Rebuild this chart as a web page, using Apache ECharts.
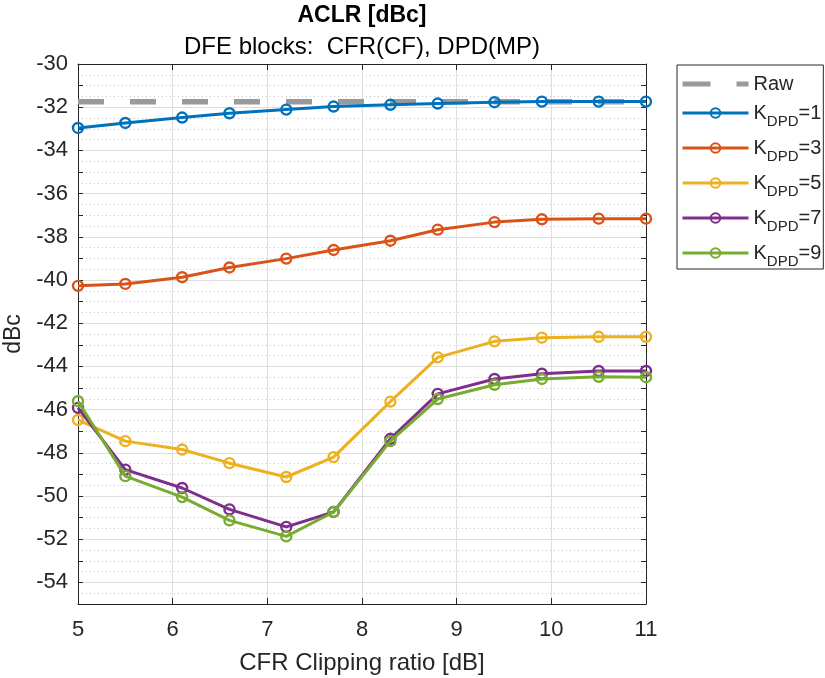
<!DOCTYPE html>
<html>
<head>
<meta charset="utf-8">
<script src="https://cdn.jsdelivr.net/npm/echarts@6.0.0/dist/echarts.min.js"></script>
<style>
html,body{margin:0;padding:0;background:#fff;}
#chart{width:825px;height:678px;}
</style>
</head>
<body>
<div id="chart"></div>
<script>
// ---- data ----
const xValues = [5, 5.5, 6.1, 6.6, 7.2, 7.7, 8.3, 8.8, 9.4, 9.9, 10.5, 11];
const rawValues = [-31.75, -31.75, -31.75, -31.75, -31.75, -31.75, -31.75, -31.75, -31.75, -31.75, -31.75, -31.75];
const k1Values = [-32.96, -32.73, -32.48, -32.28, -32.11, -31.97, -31.89, -31.83, -31.77, -31.74, -31.74, -31.74];
const k3Values = [-40.27, -40.18, -39.87, -39.42, -39.01, -38.61, -38.18, -37.67, -37.32, -37.19, -37.16, -37.16];
const k5Values = [-46.48, -47.46, -47.85, -48.48, -49.12, -48.20, -45.63, -43.58, -42.84, -42.67, -42.63, -42.63];
const k7Values = [-45.92, -48.78, -49.63, -50.62, -51.43, -50.74, -47.35, -45.27, -44.58, -44.34, -44.21, -44.21];
const k9Values = [-45.61, -49.08, -50.05, -51.13, -51.87, -50.74, -47.46, -45.51, -44.85, -44.58, -44.48, -44.50];
const seriesNames = ['Raw', 'K_DPD=1', 'K_DPD=3', 'K_DPD=5', 'K_DPD=7', 'K_DPD=9'];
const xTickLabels = [5, 6, 7, 8, 9, 10, 11];
const yTickLabels = [-30, -32, -34, -36, -38, -40, -42, -44, -46, -48, -50, -52, -54];

const FONT = '"Liberation Sans", Arial, Helvetica, sans-serif';
const TXT = '#262626';
const AX = '#262626';
const GRID_SOLID = '#dedede';
const GRID_DOT = '#c4c4c4';
const CLEAR = 'rgba(0,0,0,0)';
const colors = ['#9a9a9a', '#0072BD', '#D95319', '#EDB120', '#7E2F8E', '#77AC30'];

function pairs(ys) { return xValues.map((x, i) => [x, ys[i]]); }

const kSeries = [k1Values, k3Values, k5Values, k7Values, k9Values].map((vals, i) => ({
  name: seriesNames[i + 1],
  type: 'line',
  data: pairs(vals),
  xAxisIndex: 0, yAxisIndex: 0,
  symbol: 'circle',
  symbolSize: 10,
  showSymbol: true,
  lineStyle: { color: colors[i + 1], width: 3 },
  itemStyle: { color: CLEAR, borderColor: colors[i + 1], borderWidth: 2.4 },
  emphasis: { disabled: true },
  z: 3 + i
}));

const legendData = seriesNames.map(n => n === 'Raw'
  ? { name: n, icon: 'path://M0,0H28V5H0Z M54,0H66V5H54Z' }
  : { name: n });

const option = {
  animation: false,
  backgroundColor: '#ffffff',
  title: [
    { text: 'ACLR [dBc]', left: 362, top: 4, padding: 0, textAlign: 'center',
      textStyle: { fontFamily: FONT, fontSize: 23, fontWeight: 'bold', color: '#000' } },
    { text: 'DFE blocks:  CFR(CF), DPD(MP)', left: 362, top: 35, padding: 0, textAlign: 'center',
      textStyle: { fontFamily: FONT, fontSize: 24, fontWeight: 'normal', color: '#000' } }
  ],
  grid: { left: 78, right: 179, top: 64, bottom: 74, containLabel: false, outerBoundsMode: 'none' },
  legend: {
    orient: 'vertical',
    left: 677, top: 65,
    padding: [9, 2, 0, 4],
    itemGap: 9,
    itemWidth: 66,
    itemHeight: 12,
    backgroundColor: '#ffffff',
    borderColor: '#262626',
    borderWidth: 1,
    borderRadius: 0,
    data: legendData,
    lineStyle: { width: 3 },
    formatter: function (name) {
      if (name === 'Raw') return '{r|Raw}';
      return '{k|K}{s|DPD}{k|' + name.split('K_DPD')[1] + '}';
    },
    textStyle: {
      fontFamily: FONT, color: TXT,
      rich: {
        r: { fontFamily: FONT, fontSize: 20, lineHeight: 16, color: TXT },
        k: { fontFamily: FONT, fontSize: 20, lineHeight: 20, verticalAlign: 'top', color: TXT },
        s: { fontFamily: FONT, fontSize: 15, lineHeight: 15, verticalAlign: 'top', padding: [11, 0, 0, 0], color: TXT }
      }
    }
  },
  xAxis: [
    {
      type: 'value', position: 'bottom', min: 5, max: 11, interval: 1,
      name: 'CFR Clipping ratio [dB]', nameLocation: 'middle', nameGap: 47,
      nameTextStyle: { fontFamily: FONT, fontSize: 24, color: TXT },
      axisLine: { show: true, onZero: false, lineStyle: { color: AX, width: 1 } },
      axisTick: { show: true, inside: true, length: 6, lineStyle: { color: AX } },
      axisLabel: { fontFamily: FONT, fontSize: 22, color: TXT, margin: 15,
        formatter: v => (xTickLabels.indexOf(v) >= 0 ? String(v) : '') },
      splitLine: { show: true, lineStyle: { color: GRID_SOLID, width: 1 } }
    },
    {
      type: 'value', position: 'top', min: 5, max: 11, interval: 1,
      axisLine: { show: true, onZero: false, lineStyle: { color: AX, width: 1 } },
      axisTick: { show: true, inside: true, length: 6, lineStyle: { color: AX } },
      axisLabel: { show: false },
      splitLine: { show: false }
    }
  ],
  yAxis: [
    {
      type: 'value', position: 'left', min: -55, max: -30, interval: 1,
      name: 'dBc', nameLocation: 'middle', nameGap: 51,
      nameTextStyle: { fontFamily: FONT, fontSize: 23, color: TXT },
      axisLine: { show: true, onZero: false, lineStyle: { color: AX, width: 1 } },
      axisTick: { show: true, inside: true, length: 5, lineStyle: { color: AX } },
      axisLabel: { fontFamily: FONT, fontSize: 22, color: TXT, margin: 10,
        formatter: v => (yTickLabels.indexOf(v) >= 0 ? String(v) : '') },
      splitLine: { show: true, lineStyle: { color: [GRID_DOT, CLEAR], type: [1, 3], width: 1 } },
      minorTick: { show: false, splitNumber: 2 },
      minorSplitLine: { show: true, lineStyle: { color: GRID_DOT, type: [1, 3], width: 1 } }
    },
    {
      type: 'value', position: 'right', min: -55, max: -30, interval: 1,
      axisLine: { show: true, onZero: false, lineStyle: { color: AX, width: 1 } },
      axisTick: { show: true, inside: true, length: 5, lineStyle: { color: AX } },
      axisLabel: { show: false },
      splitLine: { show: true, lineStyle: { color: [CLEAR, GRID_SOLID], type: 'solid', width: 1 } }
    }
  ],
  series: [
    {
      name: 'Raw',
      type: 'line',
      data: pairs(rawValues),
      xAxisIndex: 0, yAxisIndex: 0,
      symbol: 'none',
      showSymbol: false,
      lineStyle: { color: colors[0], width: 5.5, type: [26, 26], cap: 'butt' },
      itemStyle: { color: colors[0] },
      emphasis: { disabled: true },
      z: 2
    }
  ].concat(kSeries)
};

const chart = echarts.init(document.getElementById('chart'), null, { renderer: 'canvas', width: 825, height: 678 });
chart.setOption(option);
</script>
</body>
</html>
